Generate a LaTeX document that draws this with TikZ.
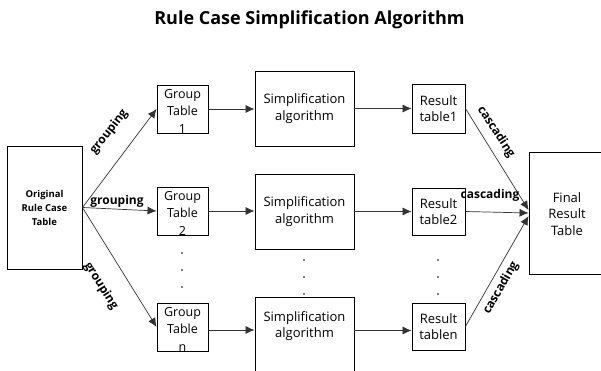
\documentclass[tikz,border=0pt]{standalone}
\usepackage{fontspec}
\setmainfont{Open Sans}
\usetikzlibrary{arrows.meta}
\begin{document}
\begin{tikzpicture}[x=1pt,y=-1pt,
  box/.style={draw=black,line width=0.9pt,inner sep=0pt,minimum width=#1},
  boxtxt/.style={align=center,font=\fontsize{13}{16.5}\selectfont,inner sep=0pt},
  lbl/.style={font=\bfseries\fontsize{12}{14}\selectfont,inner sep=0pt},
  conn/.style={draw=black!80,line width=0.7pt,-{Latex[length=9pt,width=8pt]}},
  dot/.style={fill=black,circle,inner sep=0pt,minimum size=1.6pt}]
\useasboundingbox (0,0) rectangle (601,371);
\node[font=\bfseries\fontsize{18}{21}\selectfont] (title) at (309.5,20) {Rule Case Simplification Algorithm};
% original
\node[box=75pt,minimum height=123pt] (o) at (44.5,207.5) {};
\node[align=center,font=\bfseries\fontsize{9.5}{14}\selectfont,inner sep=0pt] (ot) at (o) {Original\\Rule Case\\Table};
% group tables
\node[box=51pt,minimum height=48pt] (g1) at (182.5,109) {};
\node[box=51pt,minimum height=48pt] (g2) at (182.5,211) {};
\node[box=51pt,minimum height=48pt] (g3) at (182.5,327) {};
\node[boxtxt,font=\fontsize{12.5}{17.5}\selectfont] (g1t) at (182.5,111) {Group\\Table\\1};
\node[boxtxt,font=\fontsize{12.5}{17.5}\selectfont] (g2t) at (182.5,213) {Group\\Table\\2};
\node[boxtxt,font=\fontsize{12.5}{17.5}\selectfont] (g3t) at (182.5,329) {Group\\Table\\n};
% simplification
\node[box=99pt,minimum height=75pt,boxtxt] (s1) at (304.5,108.5) {Simplification\\algorithm};
\node[box=99pt,minimum height=75pt,boxtxt] (s2) at (304.5,211.5) {Simplification\\algorithm};
\node[box=99pt,minimum height=75pt] (s3) at (304.5,334.5) {};
\node[boxtxt] (s3t) at (304.5,326) {Simplification\\algorithm};
% results
\node[box=53pt,minimum height=49pt,boxtxt] (r1) at (438.5,108.5) {Result\\table1};
\node[box=53pt,minimum height=47pt,boxtxt] (r2) at (438.5,211.5) {Result\\table2};
\node[box=53pt,minimum height=47pt,boxtxt] (r3) at (438.5,326.5) {Result\\tablen};
% final
\node[box=82pt,minimum height=122pt] (f) at (570,213) {};
\node[boxtxt] (ft) at (567,214) {Final\\Result\\Table};
% connectors
\draw[conn] (o.east) -- (g1.west);
\draw[conn] (o.east) -- (g2.west);
\draw[conn] (o.east) -- (g3.west);
\draw[conn] (g1.east) -- (s1.west |- g1.east);
\draw[conn] (g2.east) -- (s2.west |- g2.east);
\draw[conn] ([yshift=-3pt]g3.east) -- ([yshift=-3pt]g3.east -| s3.west);
\draw[conn] (s1.east) -- (r1.west);
\draw[conn] (s2.east) -- (r2.west |- s2.east);
\draw[conn] ([yshift=4pt]s3.east) -- ([yshift=4pt]s3.east -| r3.west);
\draw[conn] (r1.east) -- ([yshift=3pt]f.west);
\draw[conn] (r2.east) -- (f.west);
\draw[conn] (r3.east) -- ([yshift=-3pt]f.west);
% labels
\node[lbl,rotate=52] (l1) at (109,132) {grouping};
\node[lbl] (l2) at (117,201) {grouping};
\node[lbl,rotate=-58] (l3) at (101,286) {grouping};
\node[lbl,rotate=-57] (l4) at (496,132) {cascading};
\node[lbl] (l5) at (490,195) {cascading};
\node[lbl,rotate=60] (l6) at (501,288) {cascading};
% dots
\foreach \y in {253,270,287} \node[dot] at (182,\y) {};
\foreach \y in {260,277,294} {\node[dot] at (304,\y) {}; \node[dot] at (438,\y) {};}
\end{tikzpicture}
\end{document}
